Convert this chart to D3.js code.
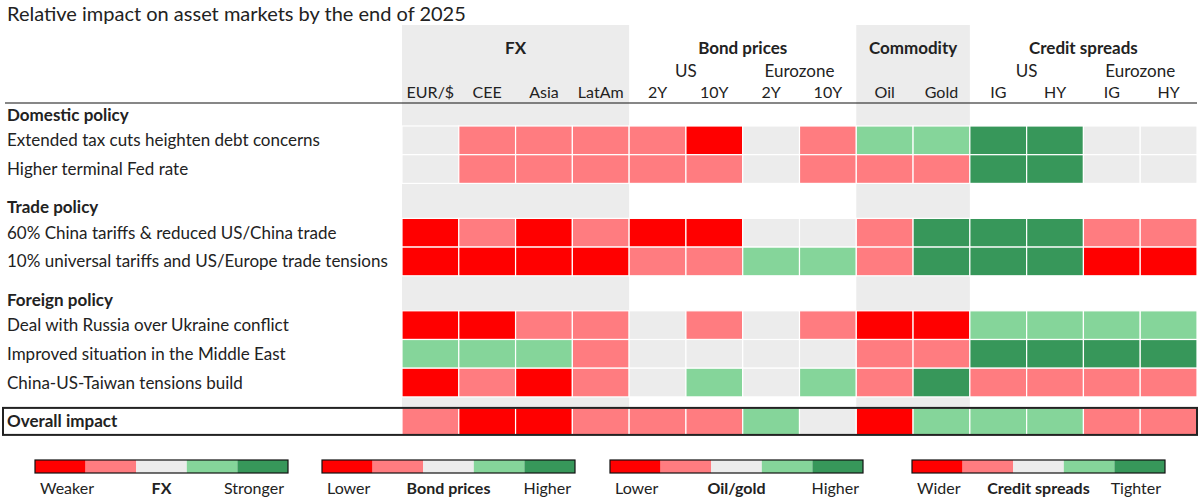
<!DOCTYPE html>
<html>
<head>
<meta charset="utf-8">
<script src="https://cdn.jsdelivr.net/npm/d3@7"></script>
<style>
    body { margin: 0; background: #fff; }
    text { font-family: Lato, "Noto Sans", sans-serif; fill: #222; }
    .bold { font-weight: bold; }
</style>
</head>
<body>
<div id="chart"></div>
<script>
// ---------------------------------------------------------------
// Data : -2 strongly negative ... 0 neutral ... +2 strongly positive
// ---------------------------------------------------------------
var columns = ["EUR/$", "CEE", "Asia", "LatAm", "US 2Y", "US 10Y", "EZ 2Y", "EZ 10Y",
               "Oil", "Gold", "US IG", "US HY", "EZ IG", "EZ HY"];
var columnLabels = ["EUR/$", "CEE", "Asia", "LatAm", "2Y", "10Y", "2Y", "10Y",
                    "Oil", "Gold", "IG", "HY", "IG", "HY"];

var groupNames = ["FX", "Bond prices", "Commodity", "Credit spreads"];
var groupFirst = ["EUR/$", "US 2Y", "Oil", "US IG"];
var groupLast = ["LatAm", "EZ 10Y", "Gold", "EZ HY"];
var shadedGroups = ["FX", "Commodity"];

var subGroupNames = ["US", "Eurozone", "US", "Eurozone"];
var subGroupFirst = ["US 2Y", "EZ 2Y", "US IG", "EZ IG"];
var subGroupLast = ["US 10Y", "EZ 10Y", "US HY", "EZ HY"];

var sections = ["Domestic policy", "Trade policy", "Foreign policy"];
var scenarios = [
    "Extended tax cuts heighten debt concerns",
    "Higher terminal Fed rate",
    "60% China tariffs & reduced US/China trade",
    "10% universal tariffs and US/Europe trade tensions",
    "Deal with Russia over Ukraine conflict",
    "Improved situation in the Middle East",
    "China-US-Taiwan tensions build"
];
var scenarioSection = [0, 0, 1, 1, 2, 2, 2];

var impacts = [
    [ 0, -1, -1, -1, -1, -2,  0, -1,  1,  1,  2,  2,  0,  0],
    [ 0, -1, -1, -1, -1, -1,  0, -1, -1, -1,  2,  2,  0,  0],
    [-2, -1, -2, -1, -2, -2,  0,  0, -1,  2,  2,  2, -1, -1],
    [-2, -2, -2, -2, -1, -1,  1,  1, -1,  2,  2,  2, -2, -2],
    [-2, -2, -1, -1,  0, -1,  0, -1, -2, -2,  1,  1,  1,  1],
    [ 1,  1,  1, -1,  0,  0,  0,  0, -1, -1,  2,  2,  2,  2],
    [-2, -1, -2, -1,  0,  1,  0,  1, -1,  2, -1, -1, -1, -1]
];
var overallLabel = "Overall impact";
var overallImpact = [-1, -2, -2, -1, -1, -1, 1, 0, -2, 1, 1, 1, -1, -1];

var levels = [-2, -1, 0, 1, 2];
var legendTitles = ["FX", "Bond prices", "Oil/gold", "Credit spreads"];
var legendLow = ["Weaker", "Lower", "Lower", "Wider"];
var legendHigh = ["Stronger", "Higher", "Higher", "Tighter"];

var title = "Relative impact on asset markets by the end of 2025";

// ---------------------------------------------------------------
// Layout
// ---------------------------------------------------------------
var w = 1200, h = 504;
var tableLeft = 402, tableRight = 1197;
var headerLineY = 103;
var firstSectionH = 23, sectionH = 35, rowH = 28.7, overallGap = 11, overallH = 27;
var labelX = 7;
var shadeTop = 25;
var legendLeft = [35, 322, 610, 912];
var legendW = 253, legendBarY = 460, legendBarH = 13;

var colors = d3.scaleOrdinal()
    .domain(levels)
    .range(["#ff0000", "#ff7c80", "#ececec", "#85d59a", "#37975a"]);

var x = d3.scaleBand()
    .domain(columns)
    .range([tableLeft, tableRight]);

// work out row positions from the section structure
var rowTop = [], sectionY = [];
var y = headerLineY;
scenarios.forEach(function (s, i) {
    if (i === 0 || scenarioSection[i] !== scenarioSection[i - 1]) {
        y += (i === 0) ? firstSectionH : sectionH;
        sectionY.push(y);
    }
    rowTop.push(y);
    y += rowH;
});
var overallTop = y + overallGap;

var svg = d3.select("#chart")
    .append("svg")
    .attr("width", w)
    .attr("height", h);

// shaded background columns
svg.selectAll(".shade")
    .data(groupNames.filter(function (g) { return shadedGroups.indexOf(g) >= 0; }))
    .enter()
    .append("rect")
    .attr("class", "shade")
    .attr("x", function (g) { return x(groupFirst[groupNames.indexOf(g)]); })
    .attr("width", function (g) {
        var i = groupNames.indexOf(g);
        return x(groupLast[i]) + x.bandwidth() - x(groupFirst[i]);
    })
    .attr("y", shadeTop)
    .attr("height", overallTop - shadeTop)
    .attr("fill", "#ececec");

// title
svg.append("text")
    .attr("x", labelX)
    .attr("y", 21)
    .style("font-size", "20px")
    .text(title);

// group headings
svg.selectAll(".group_heading")
    .data(groupNames)
    .enter()
    .append("text")
    .attr("class", "group_heading bold")
    .attr("text-anchor", "middle")
    .attr("x", function (g, i) { return (x(groupFirst[i]) + x(groupLast[i]) + x.bandwidth()) / 2; })
    .attr("y", 54)
    .style("font-size", "17px")
    .text(function (g) { return g; });

// sub group headings
svg.selectAll(".sub_heading")
    .data(subGroupNames)
    .enter()
    .append("text")
    .attr("class", "sub_heading")
    .attr("text-anchor", "middle")
    .attr("x", function (g, i) { return (x(subGroupFirst[i]) + x(subGroupLast[i]) + x.bandwidth()) / 2; })
    .attr("y", 77)
    .style("font-size", "17px")
    .text(function (g) { return g; });

// column labels
svg.selectAll(".col_label")
    .data(columns)
    .enter()
    .append("text")
    .attr("class", "col_label")
    .attr("text-anchor", "middle")
    .attr("x", function (c) { return x(c) + x.bandwidth() / 2; })
    .attr("y", 98)
    .style("font-size", "16px")
    .text(function (c, i) { return columnLabels[i]; });

// header rule
svg.append("line")
    .attr("x1", 5)
    .attr("x2", tableRight)
    .attr("y1", headerLineY)
    .attr("y2", headerLineY)
    .attr("stroke", "#111")
    .attr("stroke-width", 1.2);

// section labels
svg.selectAll(".section_label")
    .data(sections)
    .enter()
    .append("text")
    .attr("class", "section_label bold")
    .attr("x", labelX)
    .attr("y", function (s, i) { return sectionY[i] - 5; })
    .style("font-size", "17px")
    .text(function (s) { return s; });

// scenario rows
var row = svg.selectAll(".row")
    .data(impacts)
    .enter()
    .append("g")
    .attr("class", "row")
    .attr("transform", function (d, i) { return "translate(0," + rowTop[i] + ")"; });

row.append("text")
    .attr("x", labelX)
    .attr("y", rowH / 2 + 6)
    .style("font-size", "17px")
    .text(function (d, i) { return scenarios[i]; });

row.selectAll(".cell")
    .data(function (d) { return d; })
    .enter()
    .append("rect")
    .attr("class", "cell")
    .attr("x", function (v, j) { return x(columns[j]); })
    .attr("width", x.bandwidth())
    .attr("height", rowH)
    .attr("fill", function (v) { return colors(v); })
    .attr("stroke", "#fff")
    .attr("stroke-width", 1.2);

// overall row
var overall = svg.append("g")
    .attr("transform", "translate(0," + overallTop + ")");

overall.append("rect")
    .attr("x", 3)
    .attr("width", tableRight - 3)
    .attr("height", overallH)
    .attr("fill", "#fff");

overall.selectAll(".cell")
    .data(overallImpact)
    .enter()
    .append("rect")
    .attr("class", "cell")
    .attr("x", function (v, j) { return x(columns[j]); })
    .attr("width", x.bandwidth())
    .attr("height", overallH)
    .attr("fill", function (v) { return colors(v); })
    .attr("stroke", "#fff")
    .attr("stroke-width", 1.2);

overall.append("rect")
    .attr("x", 3)
    .attr("width", tableRight - 3)
    .attr("height", overallH)
    .attr("fill", "none")
    .attr("stroke", "#222")
    .attr("stroke-width", 2);

overall.append("text")
    .attr("class", "bold")
    .attr("x", labelX)
    .attr("y", overallH / 2 + 6)
    .style("font-size", "17px")
    .text(overallLabel);

// legends
var legend = svg.selectAll(".legend")
    .data(legendTitles)
    .enter()
    .append("g")
    .attr("class", "legend")
    .attr("transform", function (t, i) { return "translate(" + legendLeft[i] + "," + legendBarY + ")"; });

var seg = d3.scaleBand().domain(levels).range([0, legendW]);

legend.selectAll(".seg")
    .data(levels)
    .enter()
    .append("rect")
    .attr("class", "seg")
    .attr("x", function (l) { return seg(l); })
    .attr("width", seg.bandwidth())
    .attr("height", legendBarH)
    .attr("fill", function (l) { return colors(l); });

legend.append("rect")
    .attr("width", legendW)
    .attr("height", legendBarH)
    .attr("fill", "none")
    .attr("stroke", "#111")
    .attr("stroke-width", 1.2);

legend.append("text")
    .attr("x", 5)
    .attr("y", 34)
    .style("font-size", "16px")
    .text(function (t, i) { return legendLow[i]; });

legend.append("text")
    .attr("class", "bold")
    .attr("x", legendW / 2)
    .attr("y", 34)
    .attr("text-anchor", "middle")
    .style("font-size", "16px")
    .text(function (t) { return t; });

legend.append("text")
    .attr("x", legendW - 4)
    .attr("y", 34)
    .attr("text-anchor", "end")
    .style("font-size", "16px")
    .text(function (t, i) { return legendHigh[i]; });
</script>
</body>
</html>
